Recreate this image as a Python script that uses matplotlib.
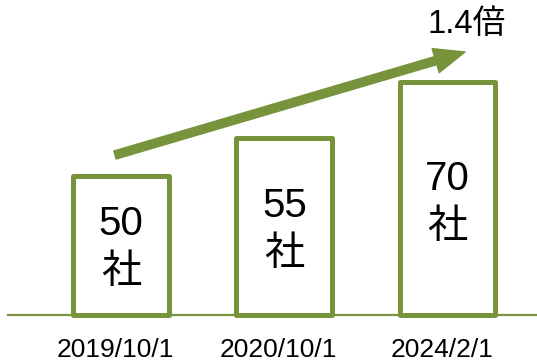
import matplotlib
matplotlib.use("Agg")
from matplotlib import pyplot as plt

plt.rcParams['font.family'] = ['Liberation Sans', 'Noto Sans CJK JP', 'DejaVu Sans']

# データ
dates = ["2019/10/1", "2020/10/1", "2024/2/1"]
companies = [50, 55, 70]
bar_height = [1.395, 1.775, 2.335]  # 図上の棒の高さ（元画像から読み取り）
ratio_label = "1.4倍"

GREEN = "#77933C"

fig = plt.figure(figsize=(5.37, 3.62), dpi=100)
ax = fig.add_axes([0, 0, 1, 1])
# 1単位 = 163.25px, 棒の中心 121px
ax.set_xlim(-121 / 163.25, (537 - 121) / 163.25)
ax.set_ylim(-0.47, 3.15)
ax.axis("off")

# 基準線
ax.plot([-0.69, 2.6], [0, 0], color=GREEN, lw=1.6, zorder=1)

x = range(len(dates))
ax.bar(x, bar_height, width=0.588, color="white", edgecolor=GREEN, linewidth=3.6,
       joinstyle="round", zorder=2)

for i, (n, h) in enumerate(zip(companies, bar_height)):
    ax.text(i, h * 0.48, "%d\n社" % n, ha="center", va="center", fontsize=29,
            linespacing=1.32, zorder=3)
    ax.text(i - 0.035, -0.35, dates[i], ha="center", va="center", fontsize=19)

# 矢印
ax.annotate("", xy=(465 / 537, 1 - 52 / 362), xytext=(115 / 537, 1 - 155 / 362),
            xycoords="axes fraction", textcoords="axes fraction",
            arrowprops=dict(arrowstyle="simple,head_length=22,head_width=18,tail_width=6",
                            mutation_scale=1, color=GREEN, shrinkA=0, shrinkB=0), zorder=4)
ax.text(467 / 537, 1 - 24 / 362, ratio_label, transform=ax.transAxes,
        ha="center", va="center", fontsize=23.5)

fig.savefig("out.png", dpi=100)
